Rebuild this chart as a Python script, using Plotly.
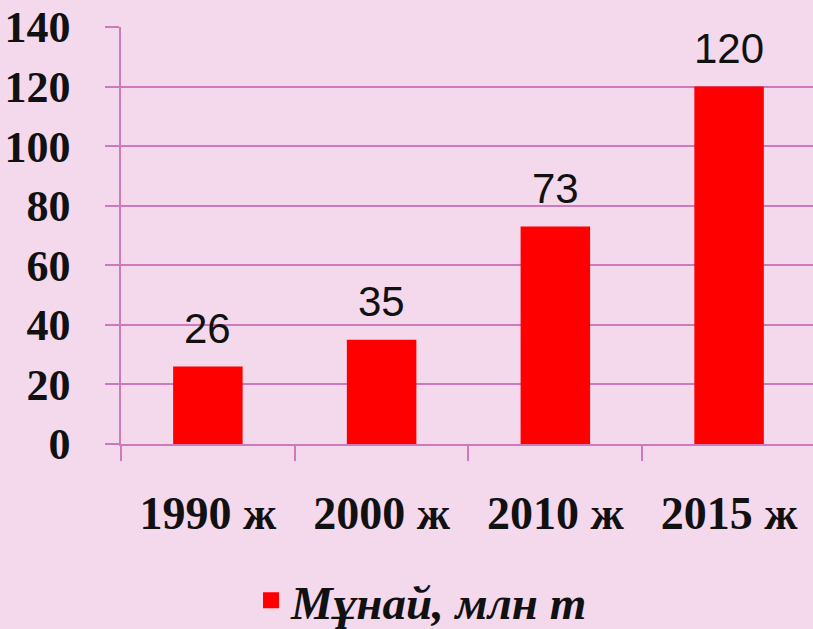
import plotly.graph_objects as go

categories = ["1990 ж", "2000 ж", "2010 ж", "2015 ж"]
values = [26, 35, 73, 120]
series_name = "Мұнай, млн т"
y_ticks = [0, 20, 40, 60, 80, 100, 120, 140]

BG = "#F4D8EC"
GRID = "#CC7ABB"
RED = "#FF0000"

fig = go.Figure()
fig.add_trace(go.Bar(
    x=categories, y=values, name=series_name,
    marker=dict(color=RED, line=dict(width=0)),
    width=0.4, showlegend=False, legendgroup="s",
))
# legend entry with a larger square symbol
fig.add_trace(go.Scatter(
    x=[None], y=[None], mode="markers", name=series_name, legendgroup="s",
    marker=dict(symbol="square", size=16, color=RED, line=dict(width=0)),
    showlegend=True,
))

for c, v in zip(categories, values):
    fig.add_annotation(
        x=c, y=v, text=str(v), showarrow=False,
        yanchor="bottom", yshift=13,
        font=dict(family="Liberation Sans, Arial", size=42, color="#111111"),
    )

fig.update_layout(
    width=813, height=629,
    paper_bgcolor=BG, plot_bgcolor=BG,
    margin=dict(l=121, r=0, t=27, b=185, pad=0),
    showlegend=True,
    legend=dict(
        orientation="h", x=0.435, xanchor="center",
        yref="container", y=0.045, yanchor="middle",
        font=dict(family="Liberation Serif, Times New Roman", size=47, color="#111111",
                  style="italic", weight="bold"),
        bgcolor="rgba(0,0,0,0)",
        itemwidth=30,
    ),
    xaxis=dict(
        type="category",
        range=[-0.5, 3.483],
        showline=True, linecolor=GRID, linewidth=2,
        ticks="outside", tickson="boundaries", ticklen=15, tickcolor=GRID, tickwidth=1.5,
        showgrid=False,
        tickfont=dict(family="Liberation Serif, Times New Roman", size=46, color="#111111",
                      weight="bold"),
        ticklabelstandoff=28,
    ),
    yaxis=dict(
        range=[0, 140],
        tickvals=y_ticks,
        showgrid=True, gridcolor=GRID, gridwidth=1.5,
        showline=True, linecolor=GRID, linewidth=1.5,
        ticks="outside", ticklen=14, tickcolor=GRID, tickwidth=1.5,
        zeroline=False,
        tickfont=dict(family="Liberation Serif, Times New Roman", size=44, color="#111111",
                      weight="bold"),
        ticklabelstandoff=26,
    ),
)

fig.write_html(
    "out.html",
    config={"displayModeBar": False},
    post_script="document.body.style.margin='0';document.body.style.overflow='hidden';",
)
